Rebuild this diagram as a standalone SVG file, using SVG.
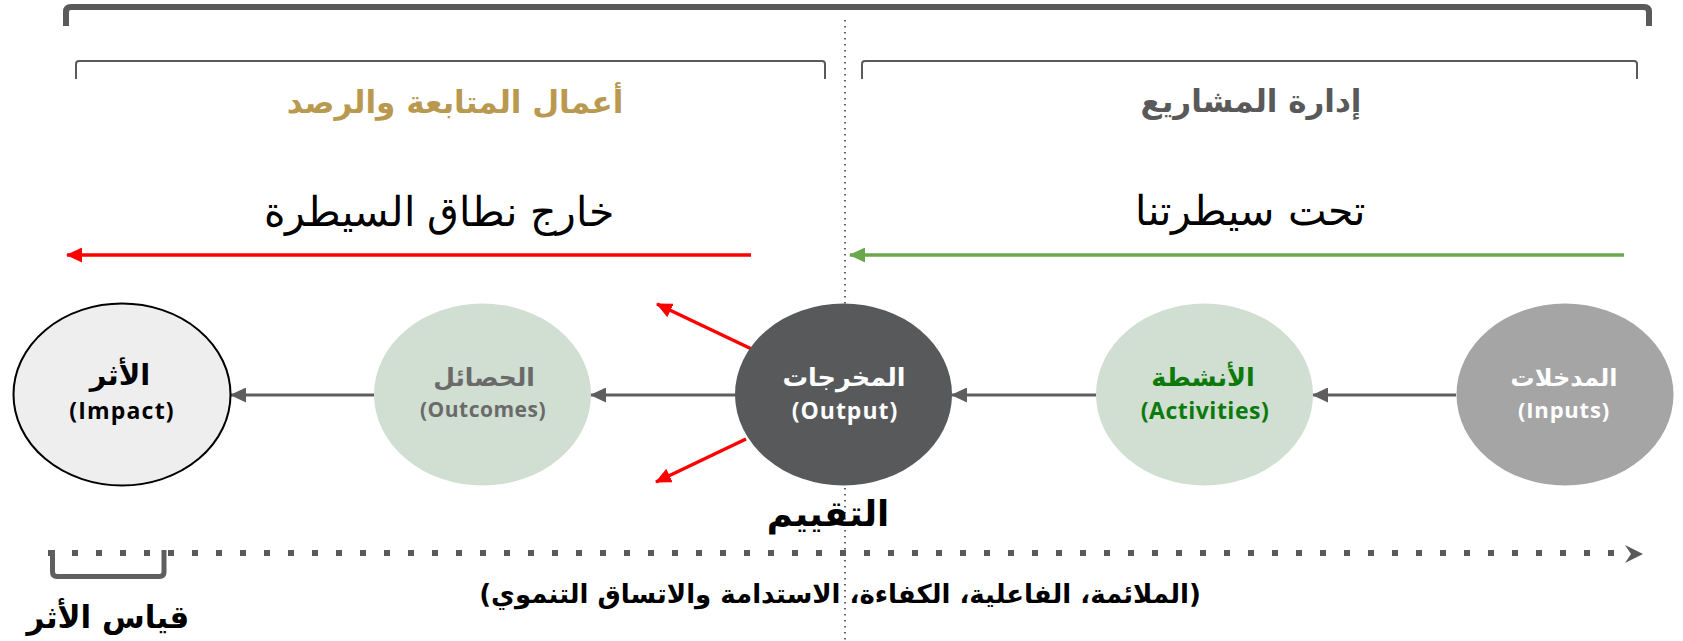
<svg xmlns="http://www.w3.org/2000/svg" width="1683" height="641" viewBox="0 0 1683 641">
<style>
.ar{font-family:"DejaVu Sans","Noto Sans",sans-serif;}
.lat{font-family:"Open Sans","DejaVu Sans",sans-serif;font-weight:bold;}
.b{font-weight:bold;}
.conn{stroke:#5e5e5e;stroke-width:3;fill:none;}
.red{stroke:#ff0000;stroke-width:3.5;fill:none;}
</style>
<defs>
<marker id="ag" markerUnits="userSpaceOnUse" markerWidth="16" markerHeight="15" viewBox="0 0 16 15" refX="15" refY="7.5" orient="auto">
<path d="M0,0 L16,7.5 L0,15 z" fill="#5e5e5e"/>
</marker>
<marker id="ar" markerUnits="userSpaceOnUse" markerWidth="16" markerHeight="15" viewBox="0 0 16 15" refX="15" refY="7.5" orient="auto">
<path d="M0,0 L16,7.5 L0,15 z" fill="#ff0000"/>
</marker>
<marker id="agr" markerUnits="userSpaceOnUse" markerWidth="16" markerHeight="15" viewBox="0 0 16 15" refX="15" refY="7.5" orient="auto">
<path d="M0,0 L16,7.5 L0,15 z" fill="#6aa84f"/>
</marker>
</defs>
<rect width="1683" height="641" fill="#ffffff"/>

<g id="frame">
<path d="M66,26 L66,12 Q66,7 71,7 L1644,7 Q1649,7 1649,12 L1649,26" fill="none" stroke="#5a5a5a" stroke-width="6"/>
<path d="M76,79 L76,64 Q76,61 79,61 L822,61 Q825,61 825,64 L825,79" fill="none" stroke="#5a5a5a" stroke-width="2"/>
<path d="M862,79 L862,64 Q862,61 865,61 L1634,61 Q1637,61 1637,64 L1637,79" fill="none" stroke="#5a5a5a" stroke-width="2"/>
<line x1="845" y1="20" x2="845" y2="641" stroke="#333333" stroke-width="1.5" stroke-dasharray="1.5 4.5"/>
</g>

<g id="headings">
<text class="ar b" x="455" y="113" font-size="31" fill="#b8994f" text-anchor="middle">أعمال المتابعة والرصد</text>
<text class="ar b" x="1251" y="112" font-size="31" fill="#595959" text-anchor="middle">إدارة المشاريع</text>
<text class="ar" x="439" y="226" font-size="40.5" font-weight="300" fill="#000000" text-anchor="middle">خارج نطاق السيطرة</text>
<text class="ar" x="1250" y="225" font-size="41" font-weight="300" fill="#000000" text-anchor="middle">تحت سيطرتنا</text>
</g>

<g id="connectors">
<line class="red" x1="751" y1="255" x2="67" y2="255" marker-end="url(#ar)"/>
<line x1="1624" y1="255" x2="850" y2="255" stroke="#6aa84f" stroke-width="3.5" marker-end="url(#agr)"/>
<line class="red" x1="760" y1="353" x2="657" y2="304" marker-end="url(#ar)"/>
<line class="red" x1="746" y1="439" x2="656" y2="482" marker-end="url(#ar)"/>
<line class="conn" x1="1456" y1="395" x2="1313" y2="395" marker-end="url(#ag)"/>
<line class="conn" x1="1096" y1="395" x2="952" y2="395" marker-end="url(#ag)"/>
<line class="conn" x1="735" y1="395" x2="591" y2="395" marker-end="url(#ag)"/>
<line class="conn" x1="374" y1="395" x2="231" y2="395" marker-end="url(#ag)"/>
</g>

<g id="node-impact">
<ellipse cx="122" cy="394.5" rx="108.5" ry="91" fill="#eeeeee" stroke="#000000" stroke-width="2"/>
<text class="ar b" x="120" y="385" font-size="29" fill="#000000" text-anchor="middle">الأثر</text>
<text class="lat" x="122" y="419" font-size="23" letter-spacing="1.2" fill="#000000" text-anchor="middle">(Impact)</text>
</g>

<g id="node-outcomes">
<ellipse cx="482.5" cy="394.5" rx="108.5" ry="91" fill="#d0dfd2"/>
<text class="ar b" x="484" y="386" font-size="25" fill="#6a6a6a" text-anchor="middle">الحصائل</text>
<text class="lat" x="483" y="417" font-size="21" letter-spacing="0.5" fill="#6a6a6a" text-anchor="middle">(Outcomes)</text>
</g>

<g id="node-output">
<ellipse cx="843.5" cy="394.5" rx="108.5" ry="91" fill="#58595b"/>
<text class="ar b" x="844" y="386" font-size="25.5" fill="#ffffff" text-anchor="middle">المخرجات</text>
<text class="lat" x="845" y="419" font-size="23" letter-spacing="1" fill="#ffffff" text-anchor="middle">(Output)</text>
</g>

<g id="node-activities">
<ellipse cx="1204.5" cy="394.5" rx="108.5" ry="91" fill="#d0dfd2"/>
<text class="ar b" x="1203" y="386" font-size="25.5" fill="#0b7a0b" text-anchor="middle">الأنشطة</text>
<text class="lat" x="1205" y="419" font-size="23" letter-spacing="0.5" fill="#0b7a0b" text-anchor="middle">(Activities)</text>
</g>

<g id="node-inputs">
<ellipse cx="1565" cy="394.5" rx="108.5" ry="91" fill="#a5a5a5"/>
<text class="ar b" x="1564" y="386" font-size="24" fill="#ffffff" text-anchor="middle">المدخلات</text>
<text class="lat" x="1564" y="418" font-size="22" letter-spacing="0.8" fill="#ffffff" text-anchor="middle">(Inputs)</text>
</g>

<g id="evaluation">
<text class="ar b" x="828" y="526" font-size="35.5" fill="#000000" text-anchor="middle">التقييم</text>
<line x1="48" y1="553" x2="1616" y2="553" stroke="#595959" stroke-width="6" stroke-dasharray="6 18"/>
<path d="M1625,545 L1643,554 L1625,563 L1631,554 Z" fill="#595959"/>
<path d="M52.5,550 L52.5,572 Q52.5,576.5 57,576.5 L159.5,576.5 Q164,576.5 164,572 L164,550" fill="none" stroke="#5f5f5f" stroke-width="5"/>
<text class="ar b" x="108" y="628" font-size="31" fill="#000000" text-anchor="middle">قياس الأثر</text>
<text class="ar b" x="840" y="603" font-size="26" fill="#000000" text-anchor="middle">(الملائمة، الفاعلية، الكفاءة، الاستدامة والاتساق التنموي)</text>
</g>
</svg>
